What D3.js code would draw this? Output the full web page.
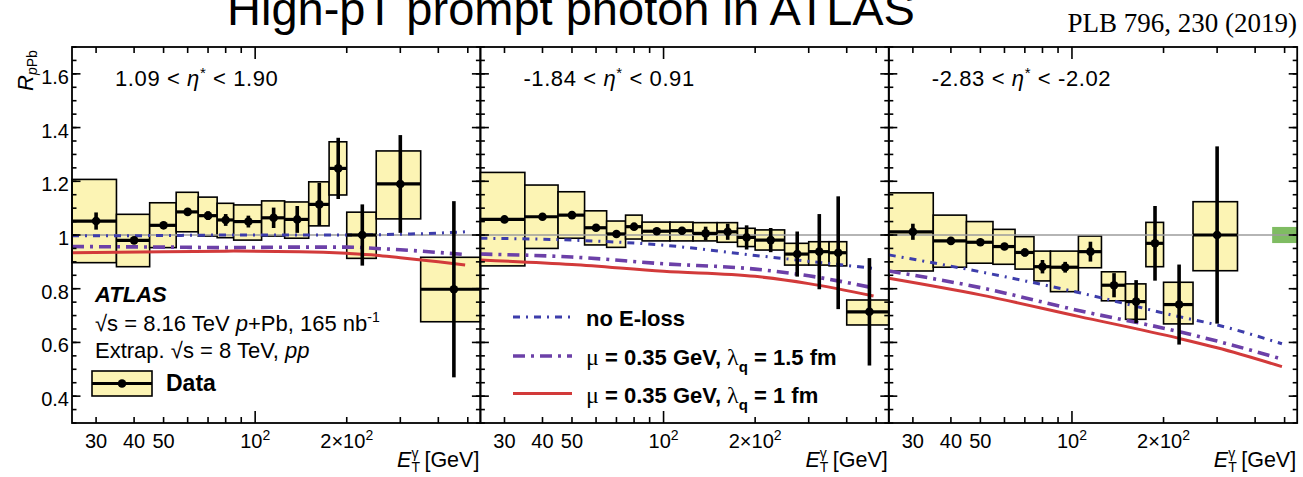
<!DOCTYPE html>
<html>
<head>
<meta charset="utf-8">
<script src="https://cdn.jsdelivr.net/npm/d3@7"></script>
<style>
  body { margin: 0; background: #fff; }
  svg { display: block; }
</style>
</head>
<body>
<svg id="chart" width="1303" height="477"></svg>
<script>
// ── data ────────────────────────────────────────────────────────────────────────

const ETA_LO = [1.09, -1.84, -2.83];
const ETA_HI = [1.90, 0.91, -2.02];

// 1.09 < eta* < 1.90
const binEdges1 = [25, 35, 45, 55, 65, 75, 85, 105, 125, 150, 175, 200, 250, 350, 550];
const rpPb1     = [1.052, 0.980, 1.036, 1.086, 1.072, 1.056, 1.050, 1.064, 1.058, 1.114, 1.248, 1.000, 1.190, 0.798];
const stat1     = [0.032, 0.012, 0.008, 0.008, 0.016, 0.022, 0.022, 0.038, 0.050, 0.080, 0.114, 0.114, 0.182, 0.328];
const sysLo1    = [0.897, 0.882, 0.953, 1.012, 0.996, 0.990, 0.981, 0.996, 0.988, 1.034, 1.149, 0.913, 1.060, 0.677];
const sysHi1    = [1.207, 1.077, 1.120, 1.159, 1.141, 1.118, 1.112, 1.127, 1.123, 1.198, 1.347, 1.085, 1.313, 0.917];

// -1.84 < eta* < 0.91
const binEdges2 = [25, 35, 45, 55, 65, 75, 85, 105, 125, 150, 175, 200, 250, 300, 350, 400, 550];
const rpPb2     = [1.058, 1.068, 1.074, 1.027, 1.004, 1.031, 1.014, 1.016, 1.006, 1.012, 0.991, 0.981, 0.929, 0.938, 0.934, 0.714];
const stat2     = [0.006, 0.006, 0.006, 0.008, 0.008, 0.010, 0.010, 0.014, 0.025, 0.030, 0.045, 0.045, 0.084, 0.140, 0.210, 0.200];
const sysLo2    = [0.885, 0.950, 0.988, 0.963, 0.954, 0.985, 0.978, 0.978, 0.978, 0.973, 0.957, 0.944, 0.888, 0.888, 0.885, 0.665];
const sysHi2    = [1.233, 1.186, 1.161, 1.090, 1.052, 1.074, 1.048, 1.048, 1.046, 1.046, 1.025, 1.019, 0.969, 0.975, 0.975, 0.758];

// -2.83 < eta* < -2.02
const binEdges3 = [25, 35, 45, 55, 65, 75, 85, 105, 125, 150, 175, 200, 250, 350];
const rpPb3     = [1.012, 0.978, 0.973, 0.957, 0.935, 0.882, 0.880, 0.938, 0.813, 0.752, 0.969, 0.741, 1.000];
const stat3     = [0.030, 0.008, 0.008, 0.008, 0.015, 0.025, 0.020, 0.037, 0.045, 0.080, 0.139, 0.149, 0.330];
const sysLo3    = [0.866, 0.880, 0.895, 0.891, 0.873, 0.829, 0.789, 0.878, 0.755, 0.686, 0.882, 0.669, 0.867];
const sysHi3    = [1.157, 1.074, 1.050, 1.021, 0.994, 0.940, 0.940, 0.996, 0.863, 0.818, 1.047, 0.824, 1.124];

// normalisation uncertainty (drawn at unity, last panel)
const normUnc = 0.03;

// theory: no E-loss / mu=0.35 GeV lambda=1.5 fm / mu=0.35 GeV lambda=1 fm
const theoryE1 = [25, 50, 85, 140, 200, 250, 300, 400, 490];
const noEloss1 = [0.997, 0.998, 1.000, 1.000, 1.000, 1.001, 1.003, 1.007, 1.012];
const lam15_1  = [0.957, 0.955, 0.953, 0.955, 0.955, 0.950, 0.945, 0.935, 0.927];
const lam10_1  = [0.934, 0.938, 0.940, 0.938, 0.932, 0.925, 0.915, 0.900, 0.888];

const theoryE2 = [25, 50, 100, 200, 300, 490];
const noEloss2 = [0.988, 0.981, 0.962, 0.924, 0.902, 0.876];
const lam15_2  = [0.929, 0.918, 0.893, 0.873, 0.848, 0.803];
const lam10_2  = [0.907, 0.890, 0.865, 0.846, 0.819, 0.773];

const theoryE3 = [25, 50, 105, 225, 300, 490];
const noEloss3 = [0.926, 0.863, 0.786, 0.696, 0.665, 0.595];
const lam15_3  = [0.866, 0.804, 0.719, 0.640, 0.605, 0.538];
const lam10_3  = [0.839, 0.777, 0.697, 0.615, 0.580, 0.510];

// axes
const X_DOMAIN = [25, 550];
const Y_DOMAIN = [0.3, 1.7];
const xMajorTicks = [100];
const xMinorTicks = [30, 40, 50, 60, 70, 80, 90, 200, 300, 400, 500];
const xLabelVals  = [30, 40, 50, 100, 200];
const xLabelBase  = ['30', '40', '50', '10', '2\u00d710'];
const xLabelExp   = ['', '', '', '2', '2'];
const yLabelVals  = [0.4, 0.6, 0.8, 1.0, 1.2, 1.4, 1.6];
const yLabelText  = ['0.4', '0.6', '0.8', '1', '1.2', '1.4', '1.6'];

// ── layout / style ──────────────────────────────────────────────────────────────

const PLOT_LEFT   = 72;
const PANEL_W     = 408.4;
const PLOT_TOP    = 47;
const PLOT_BOTTOM = 423;

const SANS  = '"Liberation Sans", Arial, Helvetica, sans-serif';
const SERIF = '"Liberation Serif", "Times New Roman", serif';

const C_BOX   = '#fcf4b4';
const C_NORM  = '#7fbc62';
const C_UNITY = '#9c9c9c';

const THEORY_STYLE = [
  { color: '#3d3dab', width: 3,   dash: '7 6 2 6'  },
  { color: '#6c40a8', width: 3.6, dash: '12 6 3 6' },
  { color: '#d23a3a', width: 3,   dash: null       },
];

const panels = [
  { edges: binEdges1, val: rpPb1, stat: stat1, lo: sysLo1, hi: sysHi1,
    tE: theoryE1, th: [noEloss1, lam15_1, lam10_1], norm: false },
  { edges: binEdges2, val: rpPb2, stat: stat2, lo: sysLo2, hi: sysHi2,
    tE: theoryE2, th: [noEloss2, lam15_2, lam10_2], norm: false },
  { edges: binEdges3, val: rpPb3, stat: stat3, lo: sysLo3, hi: sysHi3,
    tE: theoryE3, th: [noEloss3, lam15_3, lam10_3], norm: true },
];

const svg = d3.select('#chart').style('font-family', SANS);
const y = d3.scaleLinear().domain(Y_DOMAIN).range([PLOT_BOTTOM, PLOT_TOP]);

// ── title ───────────────────────────────────────────────────────────────────────

svg.append('text')
  .attr('x', 227).attr('y', 25)
  .attr('font-size', 47)
  .text('High-pT prompt photon in ATLAS');

svg.append('text')
  .attr('x', 1297).attr('y', 32)
  .attr('text-anchor', 'end')
  .attr('font-family', SERIF)
  .attr('font-size', 27)
  .text('PLB 796, 230 (2019)');

// ── panels ──────────────────────────────────────────────────────────────────────

panels.forEach((p, i) => drawPanel(p, i));

function drawPanel(p, i) {
  const x0 = PLOT_LEFT + i * PANEL_W;
  const x1 = x0 + PANEL_W;
  const x = d3.scaleLog().domain(X_DOMAIN).range([x0, x1]);
  const g = svg.append('g');

  const bins = p.val.map((v, k) => ({
    e0: p.edges[k], e1: p.edges[k + 1], v,
    stat: p.stat[k], lo: p.lo[k], hi: p.hi[k],
  }));

  // systematic boxes
  g.append('g').selectAll('rect')
    .data(bins)
    .join('rect')
    .attr('x', d => x(d.e0))
    .attr('width', d => x(d.e1) - x(d.e0))
    .attr('y', d => y(d.hi))
    .attr('height', d => y(d.lo) - y(d.hi))
    .attr('fill', C_BOX)
    .attr('stroke', '#000')
    .attr('stroke-width', 1.6);

  // normalisation band
  if (p.norm) {
    g.append('rect')
      .attr('x', x(455)).attr('width', x1 - x(455))
      .attr('y', y(1 + normUnc)).attr('height', y(1 - normUnc) - y(1 + normUnc))
      .attr('fill', C_NORM);
  }

  // unity line
  g.append('line')
    .attr('x1', x0).attr('x2', x1)
    .attr('y1', y(1)).attr('y2', y(1))
    .attr('stroke', C_UNITY).attr('stroke-width', 1.6);

  // theory curves
  const line = d3.line()
    .x(d => x(d[0])).y(d => y(d[1]))
    .curve(d3.curveMonotoneX);
  p.th.forEach((vals, k) => {
    const s = THEORY_STYLE[k];
    g.append('path')
      .datum(p.tE.map((e, j) => [e, vals[j]]))
      .attr('d', line)
      .attr('fill', 'none')
      .attr('stroke', s.color)
      .attr('stroke-width', s.width)
      .attr('stroke-dasharray', s.dash);
  });

  // data points: x-width line, stat bar, marker
  const pts = g.append('g');
  pts.selectAll('line.xw')
    .data(bins).join('line')
    .attr('class', 'xw')
    .attr('x1', d => x(d.e0)).attr('x2', d => x(d.e1))
    .attr('y1', d => y(d.v)).attr('y2', d => y(d.v))
    .attr('stroke', '#000').attr('stroke-width', 3.2);
  pts.selectAll('line.st')
    .data(bins).join('line')
    .attr('class', 'st')
    .attr('x1', d => x((d.e0 + d.e1) / 2)).attr('x2', d => x((d.e0 + d.e1) / 2))
    .attr('y1', d => y(d.v + d.stat)).attr('y2', d => y(d.v - d.stat))
    .attr('stroke', '#000').attr('stroke-width', 3.6);
  pts.selectAll('circle')
    .data(bins).join('circle')
    .attr('cx', d => x((d.e0 + d.e1) / 2))
    .attr('cy', d => y(d.v))
    .attr('r', 4.3)
    .attr('fill', '#000');

  // frame
  g.append('rect')
    .attr('x', x0).attr('y', PLOT_TOP)
    .attr('width', PANEL_W).attr('height', PLOT_BOTTOM - PLOT_TOP)
    .attr('fill', 'none').attr('stroke', '#000').attr('stroke-width', 1.8);

  // ticks (inward on all four sides)
  const yMinor = d3.range(6, 35).map(v => v / 20);
  const tickAxis = (axis, tx, ty) => {
    const a = g.append('g').attr('transform', `translate(${tx},${ty})`).call(axis);
    a.select('.domain').remove();
    a.selectAll('text').remove();
    a.selectAll('line').attr('stroke', '#000').attr('stroke-width', 1.6);
  };
  tickAxis(d3.axisLeft(y).tickValues(yLabelVals).tickSize(-8.5).offset(0), x0, 0);
  tickAxis(d3.axisLeft(y).tickValues(yMinor).tickSize(-4.5).offset(0), x0, 0);
  tickAxis(d3.axisRight(y).tickValues(yLabelVals).tickSize(-8.5).offset(0), x1, 0);
  tickAxis(d3.axisRight(y).tickValues(yMinor).tickSize(-4.5).offset(0), x1, 0);
  tickAxis(d3.axisBottom(x).tickValues(xMajorTicks).tickSize(-12).offset(0), 0, PLOT_BOTTOM);
  tickAxis(d3.axisBottom(x).tickValues(xMinorTicks).tickSize(-6).offset(0), 0, PLOT_BOTTOM);
  tickAxis(d3.axisTop(x).tickValues(xMajorTicks).tickSize(-12).offset(0), 0, PLOT_TOP);
  tickAxis(d3.axisTop(x).tickValues(xMinorTicks).tickSize(-6).offset(0), 0, PLOT_TOP);

  // x tick labels
  xLabelVals.forEach((v, k) => {
    const t = g.append('text')
      .attr('x', x(v)).attr('y', 448)
      .attr('text-anchor', 'middle')
      .attr('font-size', 20);
    t.append('tspan').text(xLabelBase[k]);
    if (xLabelExp[k]) {
      t.append('tspan').attr('dy', -8).attr('font-size', 14).text(xLabelExp[k]);
    }
  });

  // x axis title
  const xt = g.append('text')
    .attr('x', x1 - 1).attr('y', 467)
    .attr('text-anchor', 'end')
    .attr('font-size', 21.5);
  xt.append('tspan').attr('font-style', 'italic').text('E');
  xt.append('tspan').attr('font-size', 14).attr('dy', 5).text('T');
  xt.append('tspan').attr('font-size', 14).attr('dx', -8.5).attr('dy', -14).text('\u03b3');
  xt.append('tspan').attr('dy', 9).text(' [GeV]');

  // eta range label (plain hyphen minus, as in the original)
  const et = g.append('text')
    .attr('x', x0 + 43).attr('y', 86)
    .attr('font-size', 22)
    .attr('letter-spacing', 0.6);
  et.append('tspan').text(`${ETA_LO[i].toFixed(2)} < `);
  et.append('tspan').attr('font-style', 'italic').text('\u03b7');
  et.append('tspan').attr('font-size', 15).attr('dy', -8).text('*');
  et.append('tspan').attr('dy', 8).text(` < ${ETA_HI[i].toFixed(2)}`);
}

// ── y axis labels (first panel only) ────────────────────────────────────────────

yLabelVals.forEach((v, k) => {
  svg.append('text')
    .attr('x', 69).attr('y', y(v) + 10)
    .attr('text-anchor', 'end')
    .attr('font-size', 20)
    .text(yLabelText[k]);
});

const yt = svg.append('text')
  .attr('transform', 'translate(33,91) rotate(-90)')
  .attr('font-size', 22);
yt.append('tspan').attr('font-style', 'italic').text('R');
yt.append('tspan').attr('font-size', 14).attr('dy', 4).attr('font-style', 'italic').text('p');
yt.append('tspan').attr('font-size', 14).text('Pb');

// ── ATLAS label + data legend (panel 1) ─────────────────────────────────────────

svg.append('text')
  .attr('x', 95).attr('y', 302)
  .attr('font-size', 22).attr('font-weight', 'bold').attr('font-style', 'italic')
  .text('ATLAS');

const l1 = svg.append('text').attr('x', 95).attr('y', 331).attr('font-size', 22);
l1.append('tspan').text('\u221as = 8.16 TeV ');
l1.append('tspan').attr('font-style', 'italic').text('p');
l1.append('tspan').text('+Pb, 165 nb');
l1.append('tspan').attr('font-size', 14).attr('dy', -9).text('-1');

const l2 = svg.append('text').attr('x', 95).attr('y', 358).attr('font-size', 22);
l2.append('tspan').text('Extrap. \u221as = 8 TeV, ');
l2.append('tspan').attr('font-style', 'italic').text('pp');

const leg = svg.append('g');
leg.append('rect')
  .attr('x', 92).attr('y', 371).attr('width', 60).attr('height', 25)
  .attr('fill', C_BOX).attr('stroke', '#000').attr('stroke-width', 1.6);
leg.append('line')
  .attr('x1', 92).attr('x2', 152).attr('y1', 383.5).attr('y2', 383.5)
  .attr('stroke', '#000').attr('stroke-width', 3.2);
leg.append('circle').attr('cx', 122).attr('cy', 383.5).attr('r', 4.3).attr('fill', '#000');
leg.append('text')
  .attr('x', 166).attr('y', 391)
  .attr('font-size', 23).attr('font-weight', 'bold')
  .text('Data');

// ── theory legend (panel 2) ─────────────────────────────────────────────────────

const thLegY = [317, 356, 393.5];
const thLamb = [null, '1.5', '1'];
THEORY_STYLE.forEach((s, k) => {
  svg.append('line')
    .attr('x1', 513).attr('x2', 572)
    .attr('y1', thLegY[k]).attr('y2', thLegY[k])
    .attr('stroke', s.color).attr('stroke-width', s.width)
    .attr('stroke-dasharray', s.dash);
  const t = svg.append('text')
    .attr('x', 586).attr('y', thLegY[k] + 9)
    .attr('font-size', 22).attr('font-weight', 'bold');
  if (!thLamb[k]) {
    t.text('no E-loss');
    return;
  }
  t.append('tspan').attr('font-family', SERIF).attr('font-weight', 'normal').attr('font-size', 24).text('\u03bc');
  t.append('tspan').text(' = 0.35 GeV,  ');
  t.append('tspan').attr('font-family', SERIF).attr('font-weight', 'normal').attr('font-size', 24).text('\u03bb');
  t.append('tspan').attr('font-size', 15).attr('dy', 7).text('q');
  t.append('tspan').attr('dy', -7).text(` = ${thLamb[k]} fm`);
});
</script>
</body>
</html>
